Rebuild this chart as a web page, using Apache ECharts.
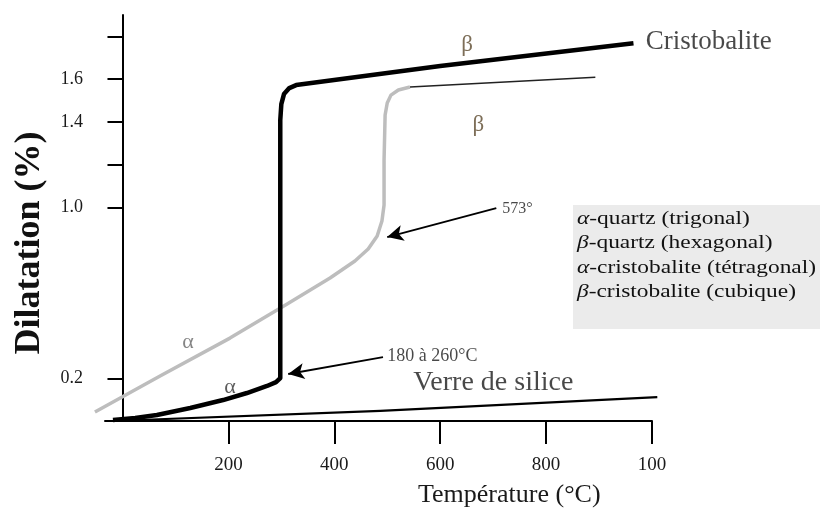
<!DOCTYPE html>
<html>
<head>
<meta charset="utf-8">
<script src="https://cdn.jsdelivr.net/npm/echarts@6/dist/echarts.min.js"></script>
<style>
  html, body { margin: 0; padding: 0; background: #fff; }
  #chart { width: 820px; height: 511px; }
</style>
</head>
<body>
<div id="chart"></div>
<script>
// Dilatation curves: temperature (°C) against dilatation (%)
const cristobaliteTemp = [-18, 24, 65, 128, 190, 235, 273, 290, 298, 298, 300, 305, 315, 328, 600, 965];
const cristobaliteDil  = [0.005, 0.014, 0.028, 0.061, 0.098, 0.131, 0.164, 0.182, 0.201, 1.408, 1.483, 1.530, 1.558, 1.572, 1.661, 1.768];

const quartzTemp = [-52, 71, 203, 311, 392, 439, 464, 481, 490, 494, 494, 496, 500, 507, 521, 543];
const quartzDil  = [0.042, 0.211, 0.388, 0.547, 0.669, 0.749, 0.805, 0.866, 0.936, 1.011, 1.221, 1.432, 1.488, 1.525, 1.549, 1.563];

const quartzBetaTemp = [543, 893];
const quartzBetaDil  = [1.563, 1.609];

const verreTemp = [-18, 487, 1010];
const verreDil  = [0.0, 0.047, 0.112];

// Axis ticks and their printed labels
const xTickValues = [200, 400, 600, 800, 1000];
const xTickLabels = ['200', '400', '600', '800', '100'];
const yTickValues = [0.2, 1.0, 1.2, 1.4, 1.6, 1.8];
const yLabelValues = [0.2, 1.0, 1.4, 1.6];
const yTickLabels = ['0.2', '1.0', '1.4', '1.6'];

// Text notes placed in data space
const noteText = ['Cristobalite', 'Verre de silice', '573°', '180 à 260°C', 'β', 'β', 'α', 'α'];
const noteTemp = [988, 549, 717, 500, 651, 672, 124, 203];
const noteDil  = [1.775, 0.178, 0.992, 0.304, 1.759, 1.385, 0.370, 0.159];

// Arrows (tail -> head) in data space
const arrowTailTemp = [706, 492];
const arrowTailDil  = [0.996, 0.299];
const arrowHeadTemp = [500, 313];
const arrowHeadDil  = [0.861, 0.220];

// Phase key
const keyGreek = ['α', 'β', 'α', 'β'];
const keyText = ['-quartz (trigonal)', '-quartz (hexagonal)', '-cristobalite (tétragonal)', '-cristobalite (cubique)'];

const SERIF = "'Liberation Serif', 'Times New Roman', serif";

const zip = (xs, ys) => xs.map((x, i) => [x, ys[i]]);

// A curve drawn as one polyline, free to run past the plot edges
function freeCurve(name, xs, ys, stroke, width) {
  const pts = zip(xs, ys);
  return {
    name: name,
    type: 'custom',
    clip: false,
    silent: true,
    data: pts,
    renderItem: (params, api) => {
      if (params.dataIndex !== 0) return null;
      return {
        type: 'polyline',
        shape: { points: pts.map(p => api.coord(p)) },
        style: { stroke: stroke, lineWidth: width, fill: null, lineJoin: 'round' }
      };
    }
  };
}

const noteStyles = [
  { position: 'right', fontSize: 27, color: '#1a1a1a' },
  { position: 'right', fontSize: 28, color: '#1a1a1a' },
  { position: 'right', fontSize: 16, color: '#1a1a1a' },
  { position: 'right', fontSize: 18, color: '#1a1a1a' },
  { position: 'inside', fontSize: 23, color: '#5c4a2e' },
  { position: 'inside', fontSize: 23, color: '#5c4a2e' },
  { position: 'inside', fontSize: 22, color: '#666' },
  { position: 'inside', fontSize: 22, color: '#333' }
];

const notes = noteText.map((t, i) => ({
  value: [noteTemp[i], noteDil[i]],
  name: t,
  label: {
    show: true,
    formatter: t,
    position: noteStyles[i].position,
    distance: 0,
    fontFamily: SERIF,
    fontSize: noteStyles[i].fontSize,
    color: noteStyles[i].color
  }
}));

const arrows = arrowTailTemp.map((x, i) => [
  { coord: [x, arrowTailDil[i]] },
  { coord: [arrowHeadTemp[i], arrowHeadDil[i]] }
]);

const keyStep = 24.5;
const keyGraphic = {
  type: 'group',
  left: 573,
  top: 205,
  children: [
    { type: 'rect', shape: { x: 0, y: 0, width: 260, height: 124 }, style: { fill: '#ebebeb' } }
  ].concat(keyText.map((t, i) => ({
    type: 'text',
    x: 4,
    y: 5 + i * keyStep,
    scaleX: 1.3,
    style: {
      text: '{g|' + keyGreek[i] + '}' + t,
      font: '18px ' + SERIF,
      fill: '#111',
      rich: { g: { fontStyle: 'italic', fontSize: 18, fontFamily: SERIF, fill: '#111' } }
    }
  })))
};

const chart = echarts.init(document.getElementById('chart'), null, { renderer: 'canvas' });
chart.setOption({
  animation: false,
  backgroundColor: '#fff',
  title: {
    text: 'Température (°C)',
    left: 413,
    top: 477,
    textStyle: { fontFamily: SERIF, fontSize: 26, fontWeight: 'normal', color: '#1a1a1a' }
  },
  graphic: [keyGraphic],
  grid: { left: 105, top: 15, right: 168, bottom: 90 },
  xAxis: {
    type: 'value',
    min: -33,
    max: 1000,
    splitLine: { show: false },
    axisLine: { lineStyle: { color: '#000', width: 2 } },
    axisTick: { customValues: xTickValues, length: 23, lineStyle: { color: '#000', width: 2 } },
    axisLabel: {
      customValues: xTickValues,
      formatter: v => xTickLabels[xTickValues.indexOf(v)],
      margin: 35,
      fontFamily: SERIF,
      fontSize: 19,
      color: '#1a1a1a'
    }
  },
  yAxis: {
    type: 'value',
    min: 0,
    max: 1.9,
    name: 'Dilatation (%)',
    nameLocation: 'middle',
    nameGap: 57,
    nameTextStyle: { fontFamily: SERIF, fontSize: 36, fontWeight: 'bold', color: '#111', padding: [0, 50, 0, 0] },
    splitLine: { show: false },
    axisLine: { lineStyle: { color: '#000', width: 2 } },
    axisTick: { customValues: yTickValues, length: 15, lineStyle: { color: '#000', width: 2 } },
    axisLabel: {
      customValues: yLabelValues,
      formatter: v => yTickLabels[yLabelValues.indexOf(v)],
      margin: 22,
      fontFamily: SERIF,
      fontSize: 18,
      color: '#1a1a1a'
    }
  },
  series: [
    freeCurve('Verre de silice', verreTemp, verreDil, '#000', 2.2),
    {
      name: 'Flèches',
      type: 'line',
      data: [],
      markLine: {
        silent: true,
        symbol: ['none', 'arrow'],
        symbolSize: [12, 16],
        label: { show: false },
        lineStyle: { color: '#000', width: 1.8, type: 'solid' },
        emphasis: { disabled: true },
        data: arrows
      }
    },
    freeCurve('Quartz', quartzTemp, quartzDil, '#bdbdbd', 3.5),
    {
      name: 'Quartz β',
      type: 'line',
      data: zip(quartzBetaTemp, quartzBetaDil),
      showSymbol: false,
      lineStyle: { color: '#222', width: 1.5 }
    },
    {
      name: 'Cristobalite',
      type: 'line',
      data: zip(cristobaliteTemp, cristobaliteDil),
      showSymbol: false,
      clip: false,
      lineStyle: { color: '#000', width: 4.5, join: 'round' }
    },
    {
      name: 'Notes',
      type: 'scatter',
      data: notes,
      symbolSize: 0,
      silent: true,
      clip: false
    }
  ]
});
</script>
</body>
</html>
